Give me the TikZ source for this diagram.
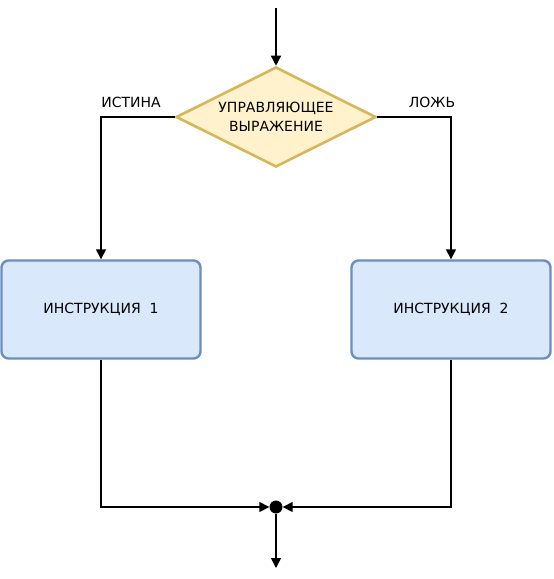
\documentclass[tikz,border=0pt]{standalone}
\usepackage{fontspec}
\setmainfont{DejaVu Sans}
\usetikzlibrary{shapes.geometric,arrows.meta}
\definecolor{condfill}{HTML}{FFF2CC}
\definecolor{conddraw}{HTML}{D6B656}
\definecolor{stmtfill}{HTML}{DAE8FC}
\definecolor{stmtdraw}{HTML}{6C8EBF}
\begin{document}
\begin{tikzpicture}[x=1pt,y=-1pt,font=\fontsize{14}{19}\selectfont,
    flow/.style={draw,line width=1.5pt,-{Triangle[length=10pt,width=10pt]}}]
      \useasboundingbox (0,0) rectangle (554,579);

      \node[diamond,aspect=2,minimum width=200pt,minimum height=100pt,inner sep=0pt,
        fill=condfill,draw=conddraw,line width=2.6pt,align=center] (cond) at (276,117)
        {УПРАВЛЯЮЩЕЕ\\ВЫРАЖЕНИЕ};

      \begin{scope}[every node/.style={rectangle,rounded corners=7pt,minimum width=199pt,
          minimum height=98pt,fill=stmtfill,draw=stmtdraw,line width=2.4pt}]
        \node (s1) at (101,309.5) {ИНСТРУКЦИЯ~~1};
        \node (s2) at (451,309.5) {ИНСТРУКЦИЯ~~2};
      \end{scope}

      \coordinate (in)  at (276,8);
      \coordinate (out) at (276,568);
      \node[circle,fill,inner sep=0pt,minimum size=13pt] (join) at (276,507) {};

      \path[flow] (in) -- (cond.north);
      \path[flow] (cond.west) -| (s1.north);
      \path[flow] (cond.east) -| (s2.north);
      \path[flow] (s1.south) |- (join.west);
      \path[flow] (s2.south) |- (join.east);
      \path[flow] (join) -- (out);

      \node at (131,102) {ИСТИНА};
      \node at (432,102) {ЛОЖЬ};

    \end{tikzpicture}
\end{document}
